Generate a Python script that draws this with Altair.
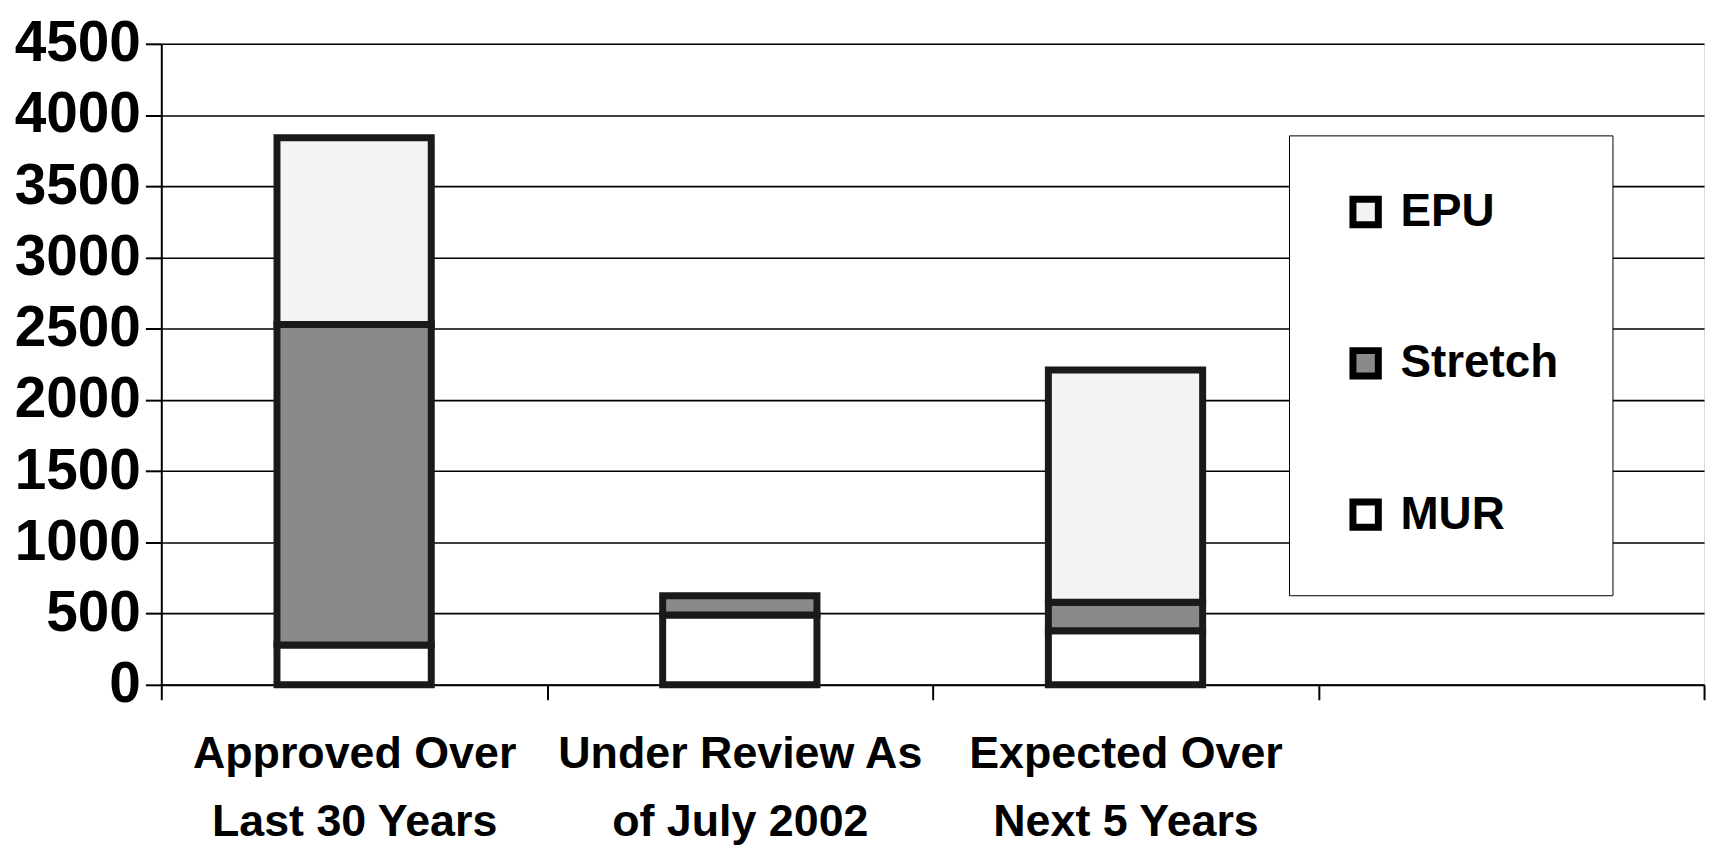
import altair as alt
import pandas as pd

categories = ["Approved Over|Last 30 Years", "Under Review As|of July 2002", "Expected Over|Next 5 Years", "blank"]
series = ["MUR", "Stretch", "EPU"]
mur = [280, 490, 380]
stretch = [2250, 135, 200]
epu = [1310, 0, 1630]
y_ticks = [0, 500, 1000, 1500, 2000, 2500, 3000, 3500, 4000, 4500]

rows = []
for i, cat in enumerate(categories[:3]):
    for s, vals, o in (("MUR", mur, 0), ("Stretch", stretch, 1), ("EPU", epu, 2)):
        if vals[i] > 0:
            rows.append({"cat": cat, "series": s, "value": vals[i], "ord": o})
df = pd.DataFrame(rows)

font_num = "Liberation Sans"
font_txt = "Liberation Sans Narrow, Liberation Sans"

chart = alt.Chart(df).mark_bar(width={"band": 0.4}, stroke="#1a1a1a").encode(
    x=alt.X("cat:N",
            scale=alt.Scale(domain=categories, paddingInner=0, paddingOuter=0),
            axis=alt.Axis(title=None, labelAngle=0, tickBand="extent", labelLimit=0,
                          labelExpr="(!isString(datum.value) || datum.value == 'blank') ? '' : split(datum.value, '|')",
                          labelFont=font_txt, labelFontSize=45, labelFontWeight="bold",
                          labelColor="black", labelLineHeight=68, labelPadding=32,
                          tickSize=15, tickColor="black", tickWidth=2,
                          domainColor="black", domainWidth=2, grid=False, labelBaseline="top")),
    y=alt.Y("value:Q", stack="zero",
            scale=alt.Scale(domain=[0, 4500], nice=False),
            axis=alt.Axis(title=None, values=y_ticks, format="d", labelFont=font_num, labelFontSize=57,
                          labelFontWeight="bold", labelColor="black", labelPadding=5,
                          tickSize=16, tickColor="black", tickWidth=2,
                          domainColor="black", domainWidth=2,
                          grid=True, gridColor="black", gridWidth=1.6, gridOpacity=1)),
    color=alt.Color("series:N",
                    scale=alt.Scale(domain=["EPU", "Stretch", "MUR"],
                                    range=["#f3f3f3", "#8a8a8a", "#ffffff"]),
                    legend=alt.Legend(title=None, orient="none", legendX=1133, legendY=92,
                                      fillColor="white", strokeColor="black", padding=54,
                                      labelFont=font_txt, labelFontSize=46, labelFontWeight="bold",
                                      labelColor="black", labelLimit=0, symbolType="square", symbolSize=650,
                                      symbolStrokeColor="black", symbolStrokeWidth=3,
                                      symbolOpacity=1, rowPadding=98, labelOffset=12)),
    strokeWidth=alt.StrokeWidth("series:N",
                                scale=alt.Scale(domain=["EPU", "Stretch", "MUR"], range=[7, 7, 2]),
                                legend=None),
    order=alt.Order("ord:Q", sort="ascending"),
).properties(
    width=1550, height=644,
    autosize=alt.AutoSizeParams(type="none"),
    padding={"left": 154, "top": 34, "right": 9, "bottom": 170},
).configure_view(stroke="black", strokeWidth=2).configure_legend(strokeWidth=2).configure(background="white")

chart.save("out.html", embed_options={"renderer": "svg", "actions": False})
